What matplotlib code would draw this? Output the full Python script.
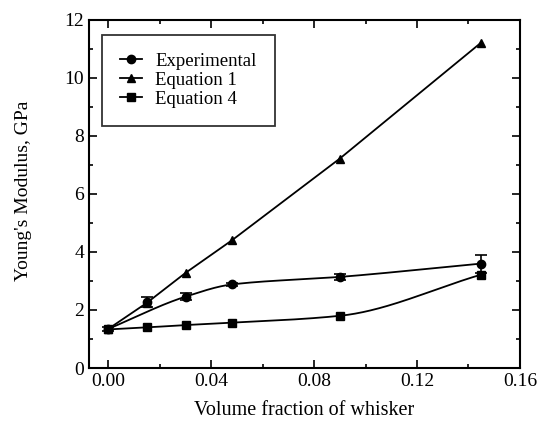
import numpy as np
import matplotlib
matplotlib.use('Agg')
import matplotlib.pyplot as plt
from matplotlib.ticker import MultipleLocator

plt.rcParams['font.family'] = ['Liberation Serif', 'DejaVu Serif']

vf = [0.0, 0.015, 0.030, 0.048, 0.090, 0.145]
exp_vals = [1.35, 2.28, 2.46, 2.88, 3.14, 3.60]
exp_err = [0.08, 0.17, 0.11, 0.05, 0.11, 0.31]
eq1_vals = [1.35, 2.25, 3.28, 4.40, 7.22, 11.22]
eq4_vals = [1.33, 1.40, 1.48, 1.56, 1.80, 3.22]


def pchip(x, y, xs):
    # monotone cubic, only used to draw a smooth line through the points
    x = np.asarray(x, float)
    y = np.asarray(y, float)
    h = np.diff(x)
    d = np.diff(y) / h
    m = np.zeros_like(y)
    for k in range(1, len(x) - 1):
        if d[k - 1] * d[k] > 0:
            w1 = 2 * h[k] + h[k - 1]
            w2 = h[k] + 2 * h[k - 1]
            m[k] = (w1 + w2) / (w1 / d[k - 1] + w2 / d[k])
    m[0] = d[0]
    m[-1] = d[-1]
    i = np.clip(np.searchsorted(x, xs) - 1, 0, len(x) - 2)
    t = (xs - x[i]) / h[i]
    h00 = 2 * t**3 - 3 * t**2 + 1
    h10 = t**3 - 2 * t**2 + t
    h01 = -2 * t**3 + 3 * t**2
    h11 = t**3 - t**2
    return h00 * y[i] + h10 * h[i] * m[i] + h01 * y[i + 1] + h11 * h[i] * m[i + 1]


fig = plt.figure(figsize=(5.37, 4.23), dpi=100)
ax = fig.add_axes([0.166, 0.130, 0.802, 0.823])

xs = np.linspace(0, 0.145, 300)
# experimental curve is a smooth fit (does not pass through the 0.015 point)
fit_idx = [0, 2, 3, 4, 5]
ax.plot(xs, pchip([vf[i] for i in fit_idx], [exp_vals[i] for i in fit_idx], xs),
        color='black', lw=1.3)
ax.errorbar(vf, exp_vals, yerr=exp_err, fmt='o', color='black', ms=6,
            capsize=4, elinewidth=1.2, capthick=1.2)
ax.plot(vf, eq1_vals, color='black', lw=1.3, marker='^', ms=6)
ax.plot(xs, pchip(vf, eq4_vals, xs), color='black', lw=1.3)
ax.plot(vf, eq4_vals, 's', color='black', ms=6)

# legend proxies
h1, = ax.plot([], [], color='black', lw=1.3, marker='o', ms=6)
h2, = ax.plot([], [], color='black', lw=1.3, marker='^', ms=6)
h3, = ax.plot([], [], color='black', lw=1.3, marker='s', ms=6)
leg = ax.legend([h1, h2, h3], ['Experimental', 'Equation 1', 'Equation 4'],
                loc='upper left', bbox_to_anchor=(0.03, 0.957), borderaxespad=0,
                fontsize=13.5, frameon=True, fancybox=False, edgecolor='black',
                handlelength=1.2, handletextpad=0.7, borderpad=0.95, labelspacing=0.1)
leg.get_frame().set_linewidth(1.3)

ax.set_xlim(-0.0075, 0.16)
ax.set_ylim(0, 12)
ax.xaxis.set_minor_locator(MultipleLocator(0.02))
ax.yaxis.set_major_locator(MultipleLocator(2))
ax.yaxis.set_minor_locator(MultipleLocator(1))
ax.set_xticks([0, 0.04, 0.08, 0.12, 0.16])
ax.set_xticklabels(['0.00', '0.04', '0.08', '0.12', '0.16'])
ax.tick_params(which='both', direction='in', top=True, right=True, labelsize=14, width=1.2)
ax.tick_params(which='major', length=6)
ax.tick_params(which='minor', length=3)
for s in ax.spines.values():
    s.set_linewidth(1.5)

ax.set_xlabel('Volume fraction of whisker', fontsize=14.5, labelpad=8)
ax.set_ylabel("Young's Modulus, GPa", fontsize=14)
ax.yaxis.set_label_coords(-0.132, 0.51)

fig.savefig('out.png', dpi=100)
